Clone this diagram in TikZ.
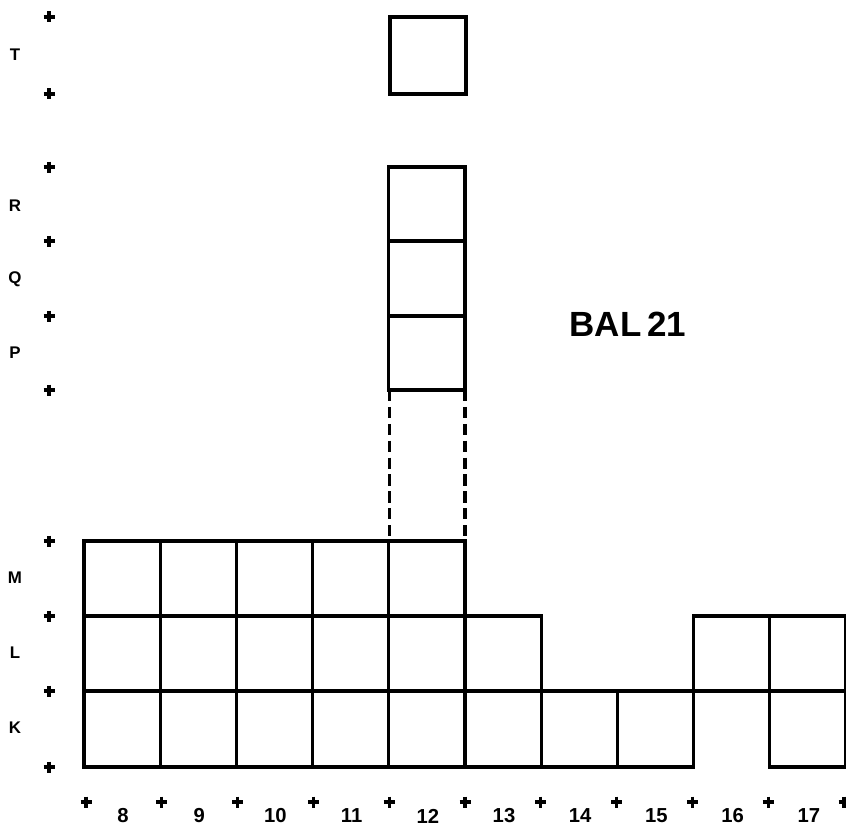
\documentclass[tikz,border=0pt]{standalone}
\usepackage{fontspec}
\setmainfont{Liberation Sans}

\begin{document}
\begin{tikzpicture}[
    x=0.025cm, y=-0.025cm,
    every node/.style={font=\bfseries},
    cell/.style={draw,line width=2.2pt},
    tick/.style={line width=2.2pt},
    rowlab/.style={font=\bfseries\large},
    collab/.style={font=\bfseries\Large}
]
\useasboundingbox (0,0) rectangle (846,834);

% Lower block, rows K, L, M
\foreach \c in {0,...,7,9} \draw[cell] ({84+76.2*\c},691) rectangle ++(76.2,76);
\foreach \c in {0,...,5,8,9} \draw[cell] ({84+76.2*\c},616) rectangle ++(76.2,75);
\foreach \c in {0,...,4} \draw[cell] ({84+76.2*\c},541) rectangle ++(76.2,75);

% Column 12, rows P, Q, R and T
\foreach \ya/\yb in {316/390,241/316,167/241} \draw[cell] (388.8,\ya) rectangle (465,\yb);
\draw[cell] (390,17) rectangle (466,94);

% Dashed link down to row M
\draw[cell,dash pattern=on 8pt off 4pt] (389.5,390) -- (389.5,541);
\draw[cell,dash pattern=on 8pt off 4pt] (465,390) -- (465,541);

% Tick crosses on the left
\foreach \y in {17,94,167,241,316,390,541,616,691,767}
  \draw[tick] (43.5,\y) -- (54.5,\y) (49,\y-5.5) -- (49,\y+5.5);

% Tick crosses along the bottom
\foreach \c in {0,...,10}
  \draw[tick] ({86+75.8*\c-5.5},802) -- ++(11,0) ({86+75.8*\c},796.5) -- ++(0,11);

% Row labels
\foreach \lab/\y in {T/55,R/206,Q/279,P/353,M/578,L/653,K/728}
  \node[rowlab] (row\lab) at (15,\y) {\lab};

% Column labels
\foreach \n [count=\c from 0] in {8,...,17}
  \node[collab] (col\n) at ({123+76.2*\c},816) {\n};

% Strain name
\node[font=\bfseries\Huge] (strain) at (628,324) {BAL\,21};

\end{tikzpicture}
\end{document}
